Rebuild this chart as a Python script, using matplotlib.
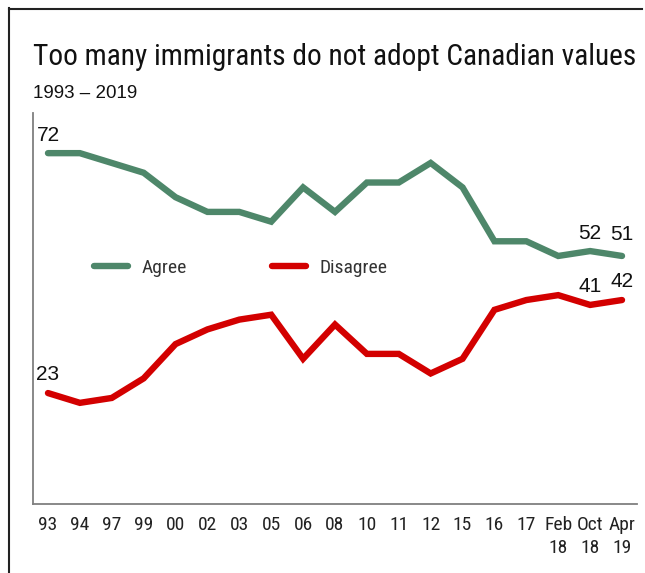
import matplotlib
matplotlib.use("Agg")
import matplotlib.pyplot as plt
from matplotlib import font_manager
from matplotlib.lines import Line2D

# Survey waves and shares (%)
waves = ["93", "94", "97", "99", "00", "02", "03", "05", "06", "08",
         "10", "11", "12", "15", "16", "17", "Feb\n18", "Oct\n18", "Apr\n19"]
agree = [72, 72, 70, 68, 63, 60, 60, 58, 65, 60,
         66, 66, 70, 65, 54, 54, 51, 52, 51]
disagree = [23, 21, 22, 26, 33, 36, 38, 39, 30, 37,
            31, 31, 27, 30, 40, 42, 43, 41, 42]

# Values written next to the lines: wave indices
agree_labels = [0, 17, 18]
disagree_labels = [0, 17, 18]

GREEN = "#4E876A"
RED = "#D30000"

available = {f.name for f in font_manager.fontManager.ttflist}
narrow = next((n for n in ["Liberation Sans Narrow", "Roboto Condensed",
                           "Open Sans Condensed", "DejaVu Sans"]
               if n in available), "DejaVu Sans")
plain = "Liberation Sans" if "Liberation Sans" in available else "DejaVu Sans"

W, H = 645, 573
fig = plt.figure(figsize=(W / 100, H / 100), dpi=100)

# Axes box in pixel coordinates
left_px, right_px, top_px, bottom_px = 33, 637, 113, 504
ax = fig.add_axes([left_px / W, 1 - bottom_px / H,
                   (right_px - left_px) / W, (bottom_px - top_px) / H])

x = list(range(len(waves)))
ax.plot(x, agree, color=GREEN, lw=4.6, solid_capstyle="round",
        solid_joinstyle="miter", label="Agree")
ax.plot(x, disagree, color=RED, lw=4.6, solid_capstyle="round",
        solid_joinstyle="miter", label="Disagree")

ax.set_xlim(-0.47, len(waves) - 1 + 0.47)
ax.set_ylim(0.34, 80.2)

ax.set_xticks(x)
ax.set_xticklabels(waves, family=narrow, fontsize=14, color="#222222",
                   linespacing=1.35)
ax.tick_params(axis="x", length=0, pad=9)
ax.set_yticks([])

for side in ["top", "right"]:
    ax.spines[side].set_visible(False)
for side in ["left", "bottom"]:
    ax.spines[side].set_color("#7f7f7f")
    ax.spines[side].set_linewidth(1.3)

for i in agree_labels:
    dy = 12 if i == 18 else 8
    ax.annotate(str(agree[i]), (x[i], agree[i]), xytext=(0, dy),
                textcoords="offset pixels", ha="center", va="bottom",
                fontsize=15, family=plain, color="#111111")
for i in disagree_labels:
    ax.annotate(str(disagree[i]), (x[i], disagree[i]), xytext=(0, 9),
                textcoords="offset pixels", ha="center", va="bottom",
                fontsize=15, family=plain, color="#111111")

leg = ax.legend(loc="center left", bbox_to_anchor=(0.0854, 0.604), ncol=2,
                frameon=False, borderpad=0, handlelength=1.75,
                handletextpad=0.7, columnspacing=4.33,
                prop={"family": narrow, "size": 14})
for h in leg.get_lines():
    h.set_linewidth(4.6)
    h.set_solid_capstyle("round")
for t in leg.get_texts():
    t.set_color("#333333")

# Title (narrow face, sized to span the chart width) and subtitle
title = fig.text(33 / W, 1 - 65 / H,
                 "Too many immigrants do not adopt Canadian values",
                 family=narrow, fontsize=23, color="#111111",
                 ha="left", va="baseline")
renderer = fig.canvas.get_renderer()
tw = title.get_window_extent(renderer).width
title.set_fontsize(23 * 607 / tw)
fig.text(33 / W, 1 - 98 / H, "1993 \u2013 2019", family=plain, fontsize=13.5,
         color="#111111", ha="left", va="baseline")

# Outer frame (top and left edges)
fig.add_artist(Line2D([9 / W, 9 / W], [0, 1 - 8 / H], transform=fig.transFigure,
                      color="#222222", lw=1.5))
fig.add_artist(Line2D([9 / W, 642 / W], [1 - 9 / H, 1 - 9 / H],
                      transform=fig.transFigure, color="#222222", lw=1.5))

fig.savefig("out.png", dpi=100)
